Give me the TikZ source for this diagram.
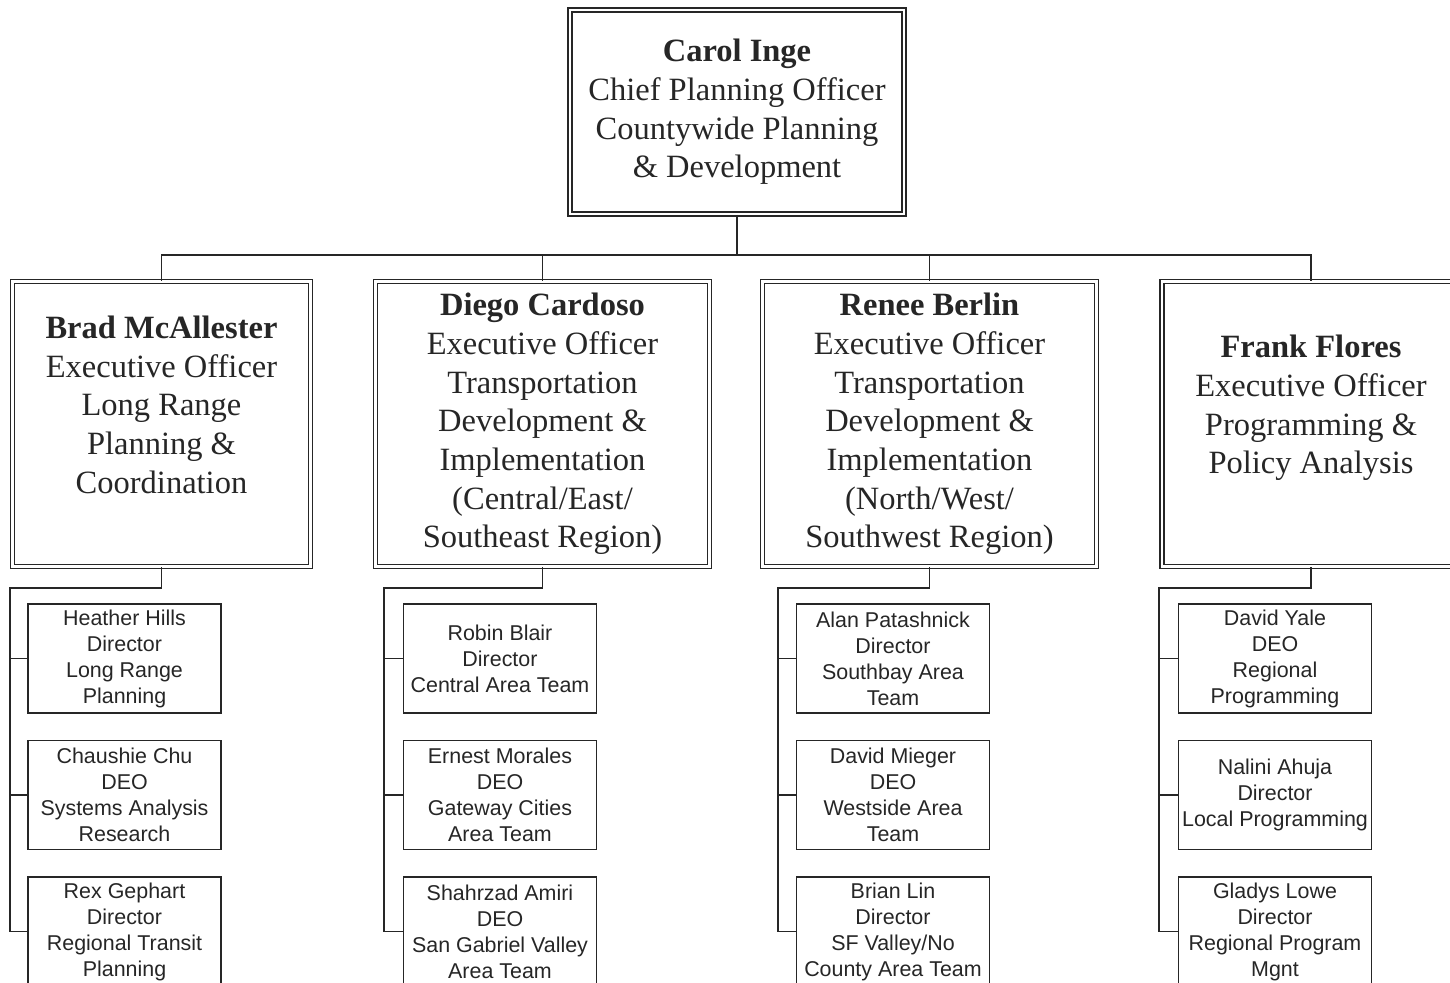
\documentclass[tikz,border=0pt]{standalone}
\usepackage{fontspec}
\setmainfont{Liberation Serif}
\setsansfont{Liberation Sans}

\tikzset{
    chief/.style={draw=black!85, double, line width=0.9pt, double distance=1.4pt, inner sep=0pt,
        minimum width=6.68cm, minimum height=4.08cm, align=center, text=black!85,
        font=\fontsize{18.5}{22}\selectfont},
    exec/.style={chief, minimum height=5.7cm},
    narrow/.style={minimum width=5.96cm},
    staff/.style={draw=black!85, line width=0.9pt, inner sep=0pt, minimum width=3.86cm,
        minimum height=2.18cm, align=center, text=black!85,
        font=\sffamily\fontsize{12.2}{14.8}\selectfont},
    link/.style={draw=black!85, line width=1pt},
}

\begin{document}
\begin{tikzpicture}[x=0.02cm, y=-0.02cm]

    \useasboundingbox (0,0) rectangle (1450,983);
    \clip (0,0) rectangle (1450,983);

    % Top of the chart
    \node[chief] (carol) at (737,112) {\textbf{Carol Inge}\\Chief Planning Officer\\Countywide Planning\\\& Development};

    % Executive officers
    \node[exec, narrow] (brad) at (161.5,424) {\textbf{Brad McAllester}\\Executive Officer\\Long Range\\Planning \&\\Coordination\\\mbox{}};
    \node[exec] (diego) at (542.5,424) {\textbf{Diego Cardoso}\\Executive Officer\\Transportation\\Development \&\\Implementation\\(Central/East/\\Southeast Region)};
    \node[exec] (renee) at (929.5,424) {\textbf{Renee Berlin}\\Executive Officer\\Transportation\\Development \&\\Implementation\\(North/West/\\Southwest Region)};
    \node[exec, narrow] (frank) at (1311,424) {\textbf{Frank Flores}\\Executive Officer\\Programming \&\\Policy Analysis\\\mbox{}};

    \coordinate (bus) at (737,255);
    \draw[link] (carol.south) -- (bus);
    \draw[link] (brad.north) |- (frank.north |- bus) -- (frank.north);
    \draw[link] (diego.north) -- (diego.north |- bus);
    \draw[link] (renee.north) -- (renee.north |- bus);

    % Staff under Brad
    \node[staff] (hills) at (124.5,658.5) {Heather Hills\\Director\\Long Range\\Planning};
    \node[staff] (chu) at (124.5,795) {Chaushie Chu\\DEO\\Systems Analysis\\Research};
    \node[staff] (gephart) at (124.5,931.5) {Rex Gephart\\Director\\Regional Transit\\Planning};

    % Staff under Diego
    \node[staff] (blair) at (500,658.5) {Robin Blair\\Director\\Central Area Team};
    \node[staff] (morales) at (500,795) {Ernest Morales\\DEO\\Gateway Cities\\Area Team};
    \node[staff] (amiri) at (500,931.5) {Shahrzad Amiri\\DEO\\San Gabriel Valley\\Area Team};

    % Staff under Renee
    \node[staff] (patashnick) at (893,658.5) {Alan Patashnick\\Director\\Southbay Area\\Team};
    \node[staff] (mieger) at (893,795) {David Mieger\\DEO\\Westside Area\\Team};
    \node[staff] (lin) at (893,931.5) {Brian Lin\\Director\\SF Valley/No\\County Area Team};

    % Staff under Frank
    \node[staff] (yale) at (1275,658.5) {David Yale\\DEO\\Regional\\Programming};
    \node[staff] (ahuja) at (1275,795) {Nalini Ahuja\\Director\\Local Programming};
    \node[staff] (lowe) at (1275,931.5) {Gladys Lowe\\Director\\Regional Program\\Mgnt};

    % Spines down the left of each column
    \coordinate (bradbus) at (10,588);
    \coordinate (diegobus) at (384,588);
    \coordinate (reneebus) at (778,588);
    \coordinate (frankbus) at (1159,588);

    \draw[link] (brad.south) |- (bradbus) |- (gephart.west);
    \draw[link] (bradbus |- hills.west) -- (hills.west);
    \draw[link] (bradbus |- chu.west) -- (chu.west);

    \draw[link] (diego.south) |- (diegobus) |- (amiri.west);
    \draw[link] (diegobus |- blair.west) -- (blair.west);
    \draw[link] (diegobus |- morales.west) -- (morales.west);

    \draw[link] (renee.south) |- (reneebus) |- (lin.west);
    \draw[link] (reneebus |- patashnick.west) -- (patashnick.west);
    \draw[link] (reneebus |- mieger.west) -- (mieger.west);

    \draw[link] (frank.south) |- (frankbus) |- (lowe.west);
    \draw[link] (frankbus |- yale.west) -- (yale.west);
    \draw[link] (frankbus |- ahuja.west) -- (ahuja.west);

\end{tikzpicture}
\end{document}
